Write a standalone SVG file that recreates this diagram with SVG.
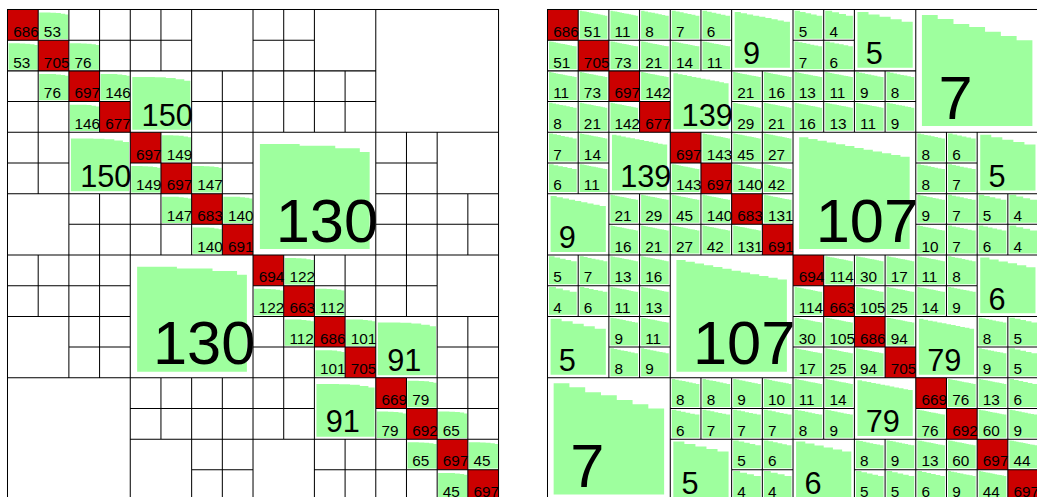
<svg xmlns="http://www.w3.org/2000/svg" width="1037" height="497" viewBox="0 0 1037 497">
<style>
text{font-family:"Liberation Sans",Arial,Helvetica,sans-serif;fill:#000;font-size:50px}
.t2{font-size:100px}
.t4{font-size:200px}
</style>
<defs>
<path id="L" fill="#9eff9e" d="M3.3 96V10H40V10.5H58V11.5H74V13.5H88V16H98V96Z"/>
<path id="L4" fill="#9eff9e" d="M5.6 95V9.5H38V11H67V13H87V16H95V95Z"/>
<path id="R4" fill="#9eff9e" d="M5 95V4H27.5V9.33H50V14.67H72.5V20H95V95Z"/>
<path id="R5" fill="#9eff9e" d="M5 95V4H23V8H41V12H59V16H77V20H95V95Z"/>
<path id="R6" fill="#9eff9e" d="M5 95V4H20V7.2H35V10.4H50V13.6H65V16.8H80V20H95V95Z"/>
<path id="R7" fill="#9eff9e" d="M5 95V4H17.86V6.67H30.71V9.33H43.57V12H56.43V14.67H69.29V17.33H82.14V20H95V95Z"/>
<path id="R7b" fill="#9eff9e" d="M5 95V4.5H17.86V7.8H30.71V11.8H43.57V14.3H56.43V18.2H69.29V21.6H82.14V25H95V95Z"/>
<path id="R8" fill="#9eff9e" d="M5 95V4H16.25V6.29H27.5V8.57H38.75V10.86H50V13.14H61.25V15.43H72.5V17.71H83.75V20H95V95Z"/>
<path id="R9" fill="#9eff9e" d="M5 95V4H15V6H25V8H35V10H45V12H55V14H65V16H75V18H85V20H95V95Z"/>
<path id="R10" fill="#9eff9e" d="M5 95V4H14V5.78H23V7.56H32V9.33H41V11.11H50V12.89H59V14.67H68V16.44H77V18.22H86V20H95V95Z"/>
<path id="R12" fill="#9eff9e" d="M5 95V4H12.5V5.45H20V6.91H27.5V8.36H35V9.82H42.5V11.27H50V12.73H57.5V14.18H65V15.64H72.5V17.09H80V18.55H87.5V20H95V95Z"/>
<g id="frame" font-family="Liberation Sans, Arial, sans-serif" font-size="50">
<path fill="#cc0000" d="M0 0h100v100h-100zM100 100h100v100h-100zM200 200h100v100h-100zM300 300h100v100h-100zM400 400h100v100h-100zM500 500h100v100h-100zM600 600h100v100h-100zM700 700h100v100h-100zM800 800h100v100h-100zM900 900h100v100h-100zM1000 1000h100v100h-100zM1100 1100h100v100h-100zM1200 1200h100v100h-100zM1300 1300h100v100h-100zM1400 1400h100v100h-100zM1500 1500h100v100h-100z"/>
<path fill="none" stroke="#000" stroke-width="3.3" d="M0 100H600M800 100H1000M0 200H1200M0 300H400M600 300H1200M0 400H1600M0 500H200M400 500H800M1200 500H1400M0 600H800M1200 600H1600M200 700H800M1200 700H1600M0 800H1600M0 900H400M800 900H1400M0 1000H400M800 1000H1600M200 1100H400M800 1100H1200M1400 1100H1600M0 1200H1600M400 1300H1000M1200 1300H1600M400 1400H1600M600 1500H800M1000 1500H1600M100 0V600M100 800V1000M200 0V1200M300 0V400M300 600V1200M400 0V1600M500 0V200M500 400V800M500 1200V1400M600 0V800M600 1200V1600M700 200V800M700 1200V1600M800 0V1600M900 0V400M900 800V1400M1000 0V400M1000 800V1600M1100 200V400M1100 800V1200M1100 1400V1600M1200 0V1600M1300 400V1000M1300 1200V1600M1400 400V1600M1500 600V800M1500 1000V1600"/>
<rect x="0" y="0" width="1600" height="1600" fill="none" stroke="#000" stroke-width="3.3"/>
<text x="18.5" y="89">686</text><text x="118.5" y="189">705</text><text x="218.5" y="289">697</text><text x="318.5" y="389">677</text>
<text x="418.5" y="489">697</text><text x="518.5" y="589">697</text><text x="618.5" y="689">683</text><text x="718.5" y="789">691</text>
<text x="818.5" y="889">694</text><text x="918.5" y="989">663</text><text x="1018.5" y="1089">686</text><text x="1118.5" y="1189">705</text>
<text x="1218.5" y="1289">669</text><text x="1318.5" y="1389">692</text><text x="1418.5" y="1489">697</text><text x="1518.5" y="1589">697</text>
</g>
</defs>
<rect width="1037" height="497" fill="#fff"/>

<g id="left-matrix" transform="translate(7.5 9.5) scale(0.3069)">
<g id="left-green">
<use href="#L" x="100" y="0"/><use href="#L" x="0" y="100"/><use href="#L" x="200" y="100"/><use href="#L" x="100" y="200"/>
<use href="#L" x="300" y="200"/><use href="#L" x="200" y="300"/><use href="#L" x="500" y="400"/><use href="#L" x="400" y="500"/>
<use href="#L" x="600" y="500"/><use href="#L" x="500" y="600"/><use href="#L" x="700" y="600"/><use href="#L" x="600" y="700"/>
<use href="#L" x="900" y="800"/><use href="#L" x="800" y="900"/><use href="#L" x="1000" y="900"/><use href="#L" x="900" y="1000"/>
<use href="#L" x="1100" y="1000"/><use href="#L" x="1000" y="1100"/><use href="#L" x="1300" y="1200"/><use href="#L" x="1200" y="1300"/>
<use href="#L" x="1400" y="1300"/><use href="#L" x="1300" y="1400"/><use href="#L" x="1500" y="1400"/><use href="#L" x="1400" y="1500"/>
<use href="#L" transform="translate(400 200) scale(2)"/><use href="#L" transform="translate(200 400) scale(2)"/>
<use href="#L4" transform="translate(800 400) scale(4)"/><use href="#L4" transform="translate(400 800) scale(4)"/>
<use href="#L" transform="translate(1200 1000) scale(2)"/><use href="#L" transform="translate(1000 1200) scale(2)"/>
</g>
<use href="#frame"/>
<g id="left-labels">
<text x="118.5" y="89">53</text><text x="18.5" y="189">53</text><text x="218.5" y="189">76</text><text x="118.5" y="289">76</text>
<text x="318.5" y="289">146</text><text x="218.5" y="389">146</text><text x="518.5" y="489">149</text><text x="418.5" y="589">149</text>
<text x="618.5" y="589">147</text><text x="518.5" y="689">147</text><text x="718.5" y="689">140</text><text x="618.5" y="789">140</text>
<text x="918.5" y="889">122</text><text x="818.5" y="989">122</text><text x="1018.5" y="989">112</text><text x="918.5" y="1089">112</text>
<text x="1118.5" y="1089">101</text><text x="1018.5" y="1189">101</text><text x="1318.5" y="1289">79</text><text x="1218.5" y="1389">79</text>
<text x="1418.5" y="1389">65</text><text x="1318.5" y="1489">65</text><text x="1518.5" y="1489">45</text><text x="1418.5" y="1589">45</text>
<text class="t2" x="437" y="378">150</text><text class="t2" x="237" y="578">150</text>
<text class="t4" x="874" y="756">130</text><text class="t4" x="474" y="1156">130</text>
<text class="t2" x="1237" y="1178">91</text><text class="t2" x="1037" y="1378">91</text>
</g>
</g>

<g id="right-matrix" transform="translate(547.5 9.5) scale(0.3069)">
<g id="right-green">
<use href="#R12" x="100" y="0"/><use href="#R12" x="200" y="0"/><use href="#R8" x="300" y="0"/><use href="#R7" x="400" y="0"/><use href="#R6" x="500" y="0"/><use href="#R5" x="800" y="0"/><use href="#R4" x="900" y="0"/>
<use href="#R12" x="0" y="100"/><use href="#R12" x="200" y="100"/><use href="#R12" x="300" y="100"/><use href="#R12" x="400" y="100"/><use href="#R12" x="500" y="100"/><use href="#R7" x="800" y="100"/><use href="#R6" x="900" y="100"/>
<use href="#R12" x="0" y="200"/><use href="#R12" x="100" y="200"/><use href="#R12" x="300" y="200"/><use href="#R12" x="600" y="200"/><use href="#R12" x="700" y="200"/><use href="#R12" x="800" y="200"/><use href="#R12" x="900" y="200"/><use href="#R9" x="1000" y="200"/><use href="#R8" x="1100" y="200"/>
<use href="#R8" x="0" y="300"/><use href="#R12" x="100" y="300"/><use href="#R12" x="200" y="300"/><use href="#R12" x="600" y="300"/><use href="#R12" x="700" y="300"/><use href="#R12" x="800" y="300"/><use href="#R12" x="900" y="300"/><use href="#R12" x="1000" y="300"/><use href="#R9" x="1100" y="300"/>
<use href="#R7" x="0" y="400"/><use href="#R12" x="100" y="400"/><use href="#R12" x="500" y="400"/><use href="#R12" x="600" y="400"/><use href="#R12" x="700" y="400"/><use href="#R8" x="1200" y="400"/><use href="#R6" x="1300" y="400"/>
<use href="#R6" x="0" y="500"/><use href="#R12" x="100" y="500"/><use href="#R12" x="400" y="500"/><use href="#R12" x="600" y="500"/><use href="#R12" x="700" y="500"/><use href="#R8" x="1200" y="500"/><use href="#R7" x="1300" y="500"/>
<use href="#R12" x="200" y="600"/><use href="#R12" x="300" y="600"/><use href="#R12" x="400" y="600"/><use href="#R12" x="500" y="600"/><use href="#R12" x="700" y="600"/><use href="#R9" x="1200" y="600"/><use href="#R7" x="1300" y="600"/><use href="#R5" x="1400" y="600"/><use href="#R4" x="1500" y="600"/>
<use href="#R12" x="200" y="700"/><use href="#R12" x="300" y="700"/><use href="#R12" x="400" y="700"/><use href="#R12" x="500" y="700"/><use href="#R12" x="600" y="700"/><use href="#R10" x="1200" y="700"/><use href="#R7" x="1300" y="700"/><use href="#R6" x="1400" y="700"/><use href="#R4" x="1500" y="700"/>
<use href="#R5" x="0" y="800"/><use href="#R7" x="100" y="800"/><use href="#R12" x="200" y="800"/><use href="#R12" x="300" y="800"/><use href="#R12" x="900" y="800"/><use href="#R12" x="1000" y="800"/><use href="#R12" x="1100" y="800"/><use href="#R12" x="1200" y="800"/><use href="#R8" x="1300" y="800"/>
<use href="#R4" x="0" y="900"/><use href="#R6" x="100" y="900"/><use href="#R12" x="200" y="900"/><use href="#R12" x="300" y="900"/><use href="#R12" x="800" y="900"/><use href="#R12" x="1000" y="900"/><use href="#R12" x="1100" y="900"/><use href="#R12" x="1200" y="900"/><use href="#R9" x="1300" y="900"/>
<use href="#R9" x="200" y="1000"/><use href="#R12" x="300" y="1000"/><use href="#R12" x="800" y="1000"/><use href="#R12" x="900" y="1000"/><use href="#R12" x="1100" y="1000"/><use href="#R8" x="1400" y="1000"/><use href="#R5" x="1500" y="1000"/>
<use href="#R8" x="200" y="1100"/><use href="#R9" x="300" y="1100"/><use href="#R12" x="800" y="1100"/><use href="#R12" x="900" y="1100"/><use href="#R12" x="1000" y="1100"/><use href="#R9" x="1400" y="1100"/><use href="#R5" x="1500" y="1100"/>
<use href="#R8" x="400" y="1200"/><use href="#R8" x="500" y="1200"/><use href="#R9" x="600" y="1200"/><use href="#R10" x="700" y="1200"/><use href="#R12" x="800" y="1200"/><use href="#R12" x="900" y="1200"/><use href="#R12" x="1300" y="1200"/><use href="#R12" x="1400" y="1200"/><use href="#R6" x="1500" y="1200"/>
<use href="#R6" x="400" y="1300"/><use href="#R7" x="500" y="1300"/><use href="#R7" x="600" y="1300"/><use href="#R7" x="700" y="1300"/><use href="#R8" x="800" y="1300"/><use href="#R9" x="900" y="1300"/><use href="#R12" x="1200" y="1300"/><use href="#R12" x="1400" y="1300"/><use href="#R9" x="1500" y="1300"/>
<use href="#R5" x="600" y="1400"/><use href="#R6" x="700" y="1400"/><use href="#R8" x="1000" y="1400"/><use href="#R9" x="1100" y="1400"/><use href="#R12" x="1200" y="1400"/><use href="#R12" x="1300" y="1400"/><use href="#R12" x="1500" y="1400"/>
<use href="#R4" x="600" y="1500"/><use href="#R4" x="700" y="1500"/><use href="#R5" x="1000" y="1500"/><use href="#R5" x="1100" y="1500"/><use href="#R6" x="1200" y="1500"/><use href="#R9" x="1300" y="1500"/><use href="#R12" x="1400" y="1500"/>
<use href="#R9" transform="translate(600 0) scale(2)"/><use href="#R5" transform="translate(1000 0) scale(2)"/><use href="#R7b" transform="translate(1200 0) scale(4)"/>
<use href="#R12" transform="translate(400 200) scale(2)"/><use href="#R12" transform="translate(200 400) scale(2)"/><use href="#R12" transform="translate(800 400) scale(4)"/>
<use href="#R5" transform="translate(1400 400) scale(2)"/><use href="#R9" transform="translate(0 600) scale(2)"/><use href="#R12" transform="translate(400 800) scale(4)"/>
<use href="#R6" transform="translate(1400 800) scale(2)"/><use href="#R5" transform="translate(0 1000) scale(2)"/><use href="#R12" transform="translate(1200 1000) scale(2)"/>
<use href="#R7b" transform="translate(0 1200) scale(4)"/><use href="#R12" transform="translate(1000 1200) scale(2)"/><use href="#R5" transform="translate(400 1400) scale(2)"/>
<use href="#R6" transform="translate(800 1400) scale(2)"/>
</g>
<use href="#frame"/>
<g id="right-labels">
<text x="118.5" y="89">51</text><text x="218.5" y="89">11</text><text x="318.5" y="89">8</text><text x="418.5" y="89">7</text><text x="518.5" y="89">6</text><text x="818.5" y="89">5</text><text x="918.5" y="89">4</text>
<text x="18.5" y="189">51</text><text x="218.5" y="189">73</text><text x="318.5" y="189">21</text><text x="418.5" y="189">14</text><text x="518.5" y="189">11</text><text x="818.5" y="189">7</text><text x="918.5" y="189">6</text>
<text x="18.5" y="289">11</text><text x="118.5" y="289">73</text><text x="318.5" y="289">142</text><text x="618.5" y="289">21</text><text x="718.5" y="289">16</text><text x="818.5" y="289">13</text><text x="918.5" y="289">11</text><text x="1018.5" y="289">9</text><text x="1118.5" y="289">8</text>
<text x="18.5" y="389">8</text><text x="118.5" y="389">21</text><text x="218.5" y="389">142</text><text x="618.5" y="389">29</text><text x="718.5" y="389">21</text><text x="818.5" y="389">16</text><text x="918.5" y="389">13</text><text x="1018.5" y="389">11</text><text x="1118.5" y="389">9</text>
<text x="18.5" y="489">7</text><text x="118.5" y="489">14</text><text x="518.5" y="489">143</text><text x="618.5" y="489">45</text><text x="718.5" y="489">27</text><text x="1218.5" y="489">8</text><text x="1318.5" y="489">6</text>
<text x="18.5" y="589">6</text><text x="118.5" y="589">11</text><text x="418.5" y="589">143</text><text x="618.5" y="589">140</text><text x="718.5" y="589">42</text><text x="1218.5" y="589">8</text><text x="1318.5" y="589">7</text>
<text x="218.5" y="689">21</text><text x="318.5" y="689">29</text><text x="418.5" y="689">45</text><text x="518.5" y="689">140</text><text x="718.5" y="689">131</text><text x="1218.5" y="689">9</text><text x="1318.5" y="689">7</text><text x="1418.5" y="689">5</text><text x="1518.5" y="689">4</text>
<text x="218.5" y="789">16</text><text x="318.5" y="789">21</text><text x="418.5" y="789">27</text><text x="518.5" y="789">42</text><text x="618.5" y="789">131</text><text x="1218.5" y="789">10</text><text x="1318.5" y="789">7</text><text x="1418.5" y="789">6</text><text x="1518.5" y="789">4</text>
<text x="18.5" y="889">5</text><text x="118.5" y="889">7</text><text x="218.5" y="889">13</text><text x="318.5" y="889">16</text><text x="918.5" y="889">114</text><text x="1018.5" y="889">30</text><text x="1118.5" y="889">17</text><text x="1218.5" y="889">11</text><text x="1318.5" y="889">8</text>
<text x="18.5" y="989">4</text><text x="118.5" y="989">6</text><text x="218.5" y="989">11</text><text x="318.5" y="989">13</text><text x="818.5" y="989">114</text><text x="1018.5" y="989">105</text><text x="1118.5" y="989">25</text><text x="1218.5" y="989">14</text><text x="1318.5" y="989">9</text>
<text x="218.5" y="1089">9</text><text x="318.5" y="1089">11</text><text x="818.5" y="1089">30</text><text x="918.5" y="1089">105</text><text x="1118.5" y="1089">94</text><text x="1418.5" y="1089">8</text><text x="1518.5" y="1089">5</text>
<text x="218.5" y="1189">8</text><text x="318.5" y="1189">9</text><text x="818.5" y="1189">17</text><text x="918.5" y="1189">25</text><text x="1018.5" y="1189">94</text><text x="1418.5" y="1189">9</text><text x="1518.5" y="1189">5</text>
<text x="418.5" y="1289">8</text><text x="518.5" y="1289">8</text><text x="618.5" y="1289">9</text><text x="718.5" y="1289">10</text><text x="818.5" y="1289">11</text><text x="918.5" y="1289">14</text><text x="1318.5" y="1289">76</text><text x="1418.5" y="1289">13</text><text x="1518.5" y="1289">6</text>
<text x="418.5" y="1389">6</text><text x="518.5" y="1389">7</text><text x="618.5" y="1389">7</text><text x="718.5" y="1389">7</text><text x="818.5" y="1389">8</text><text x="918.5" y="1389">9</text><text x="1218.5" y="1389">76</text><text x="1418.5" y="1389">60</text><text x="1518.5" y="1389">9</text>
<text x="618.5" y="1489">5</text><text x="718.5" y="1489">6</text><text x="1018.5" y="1489">8</text><text x="1118.5" y="1489">9</text><text x="1218.5" y="1489">13</text><text x="1318.5" y="1489">60</text><text x="1518.5" y="1489">44</text>
<text x="618.5" y="1589">4</text><text x="718.5" y="1589">4</text><text x="1018.5" y="1589">5</text><text x="1118.5" y="1589">5</text><text x="1218.5" y="1589">6</text><text x="1318.5" y="1589">9</text><text x="1418.5" y="1589">44</text>
<text class="t2" x="637" y="178">9</text><text class="t2" x="1037" y="178">5</text><text class="t4" x="1274" y="356">7</text>
<text class="t2" x="437" y="378">139</text><text class="t2" x="237" y="578">139</text><text class="t4" x="874" y="756">107</text>
<text class="t2" x="1437" y="578">5</text><text class="t2" x="37" y="778">9</text><text class="t4" x="474" y="1156">107</text>
<text class="t2" x="1437" y="978">6</text><text class="t2" x="37" y="1178">5</text><text class="t2" x="1237" y="1178">79</text>
<text class="t4" x="74" y="1556">7</text><text class="t2" x="1037" y="1378">79</text><text class="t2" x="437" y="1578">5</text>
<text class="t2" x="837" y="1578">6</text>
</g>
</g>
</svg>
